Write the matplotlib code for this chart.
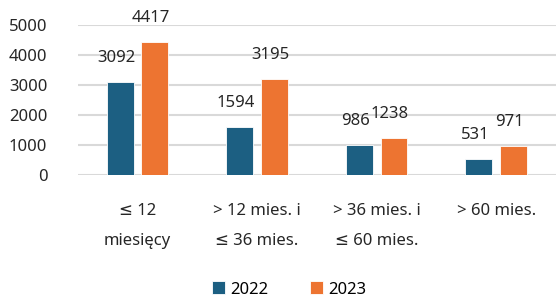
import numpy as np
import matplotlib.pyplot as plt

plt.rcParams['font.family'] = ['Noto Sans', 'DejaVu Sans']

categories = ['≤ 12\nmiesięcy', '> 12 mies. i\n≤ 36 mies.', '> 36 mies. i\n≤ 60 mies.', '> 60 mies.']
values_2022 = [3092, 1594, 986, 531]
values_2023 = [4417, 3195, 1238, 971]
series_names = ['2022', '2023']

blue = '#1c5f82'
orange = '#ed7431'
fs = 12

fig = plt.figure(figsize=(5.56, 2.97), dpi=100)
ax = fig.add_axes([0.14, 0.411, 0.86, 0.505])

x = np.arange(len(categories))
w = 0.225
off = 0.145
b1 = ax.bar(x - off, values_2022, w, color=blue, edgecolor='white', linewidth=0.6, label=series_names[0], zorder=3)
b2 = ax.bar(x + off, values_2023, w, color=orange, edgecolor='white', linewidth=0.6, label=series_names[1], zorder=3)

for bars in (b1, b2):
    for rect in bars:
        h = rect.get_height()
        ax.annotate(str(h), (rect.get_x() + rect.get_width() / 2, h),
                    xytext=(-4, 24), textcoords='offset pixels',
                    ha='center', va='center', fontsize=fs, color='#262626',
                    annotation_clip=False)

ax.set_xlim(-0.5, 3.5)
ax.set_ylim(0, 5000)
ax.set_yticks(range(0, 5001, 1000))
ax.yaxis.grid(True, color='#d9d9d9', linewidth=1.5, zorder=0)
for s in ax.spines.values():
    s.set_visible(False)
ax.tick_params(axis='both', length=0, labelsize=fs, colors='#262626')
ax.tick_params(axis='y', pad=22)
ax.set_xticks(x)
ax.set_xticklabels(categories, linespacing=2.15)
ax.tick_params(axis='x', pad=20)

fig.legend(handles=[b1, b2], loc='center', bbox_to_anchor=(0.52, 0.025),
           ncol=2, frameon=False, fontsize=fs, handlelength=0.8,
           handleheight=0.8, handletextpad=0.3, columnspacing=2.5)

fig.savefig('out.png', dpi=100)
